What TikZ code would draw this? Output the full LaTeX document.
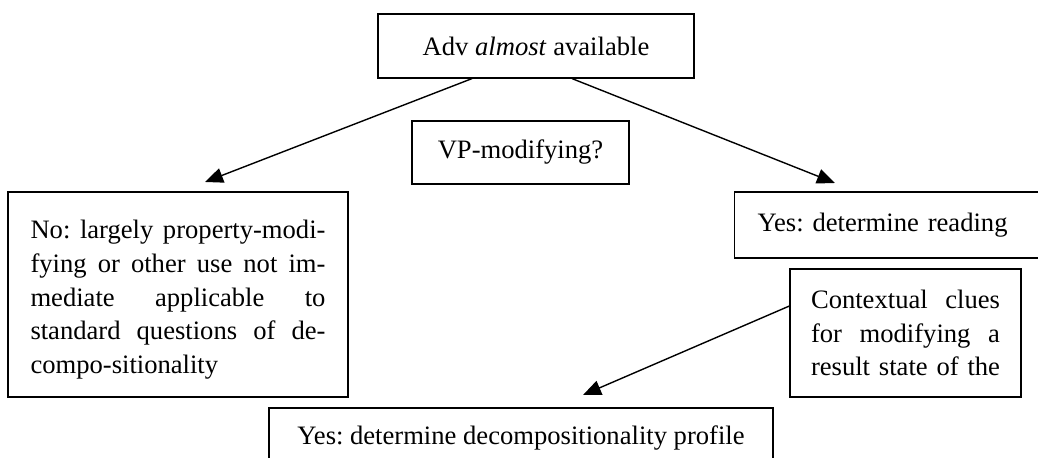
\documentclass[tikz,border=0pt]{standalone}
\usepackage{fontspec}
\setmainfont{Liberation Serif}
\frenchspacing
\usepackage{tikz}
\usetikzlibrary{arrows.meta}

\begin{document}
\begin{tikzpicture}[x=0.5pt, y=-0.5pt,
        box/.style = {draw, line width=0.6pt, inner ysep=0pt,
            font=\fontsize{13.3}{16.9}\selectfont},
        link/.style = {line width=0.7pt, -{Triangle[length=9pt, width=7.5pt]}}]
        \clip (0, 0) rectangle (1038, 458);

        \node[box, minimum width=158pt, minimum height=32pt] (adv) at (536, 46)
            {Adv \textit{almost} available};
        \node[box, minimum width=108.5pt, minimum height=31.5pt] (vp) at (520.5, 152.5)
            {VP-modifying?};
        \node[box, inner xsep=11.25pt, text width=147.5pt, align=justify,
            minimum height=102.5pt] (no) at (178, 294.5)
            {\rule{0pt}{14.5pt}No: largely property-modi-\linebreak fying or other use not im-\linebreak
             mediate applicable to\linebreak standard questions of de-\linebreak
             compo-sitionality};
        \node[box, anchor=west, inner xsep=11.5pt, text width=131pt, align=left,
            minimum height=33pt] (yes) at (734, 225)
            {Yes: determine reading};
        \node[box, inner xsep=10.5pt, text width=94.5pt, align=justify,
            minimum height=64pt] (ctx) at (905.5, 333)
            {Contextual clues\linebreak for modifying a\linebreak
             result state of the\parfillskip=0pt\par};
        \node[box, minimum width=252pt, minimum height=30pt] (dec) at (521, 438)
            {Yes: determine decompositionality profile};

        \coordinate (noTip) at (205, 182);
        \coordinate (yesTip) at (835, 183);
        \coordinate (decTip) at (583, 395);

        \draw[link] ([xshift=-32pt]adv.south) -- (noTip);
        \draw[link] ([xshift=18pt]adv.south) -- (yesTip);
        \draw[link] ([yshift=13.5pt]ctx.west) -- (decTip);
    \end{tikzpicture}
\end{document}
